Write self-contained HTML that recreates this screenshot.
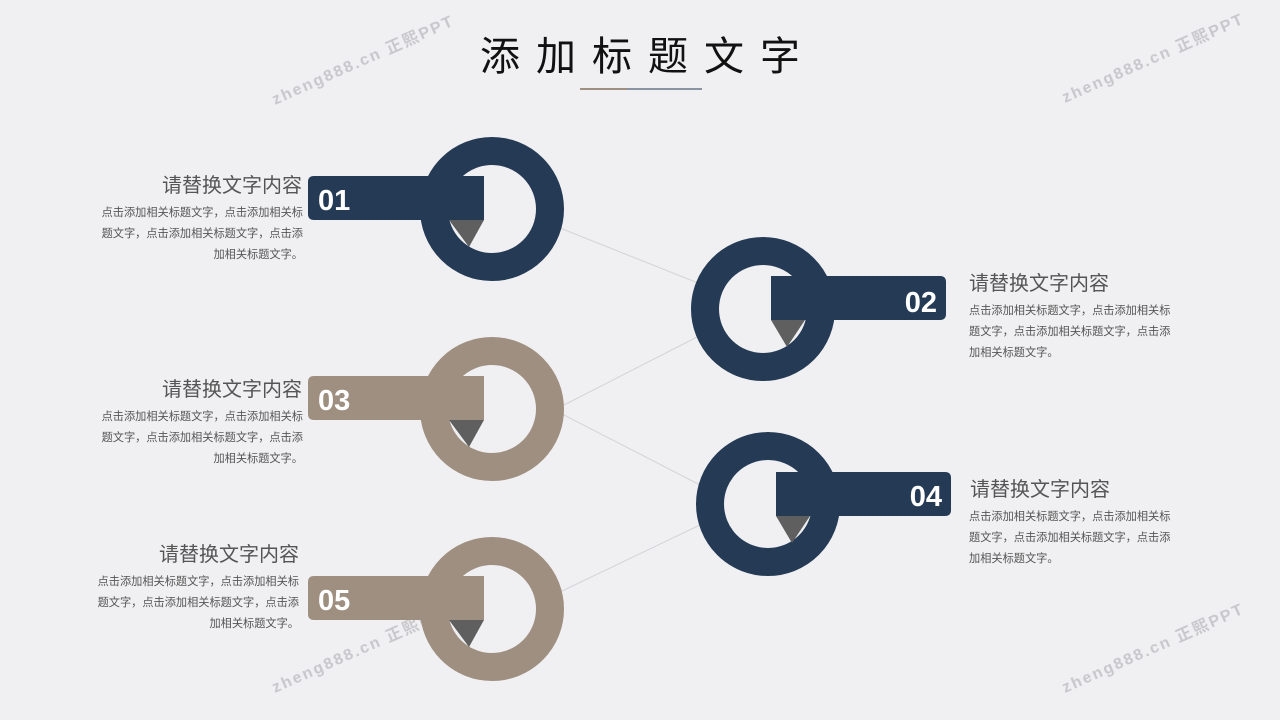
<!DOCTYPE html>
<html><head><meta charset="utf-8"><style>
html,body{margin:0;padding:0;background:#f0f0f2;}
svg{display:block;}
text{font-family:"Liberation Sans","Noto Sans CJK SC",sans-serif;}
</style></head><body>
<svg width="1280" height="720" viewBox="0 0 1280 720" xmlns="http://www.w3.org/2000/svg">
<rect width="1280" height="720" fill="#f0f0f2"/>
<g fill="#bdbdc2" font-size="16" font-weight="bold" opacity="0.8">
<text transform="translate(275,105) rotate(-24)" letter-spacing="2">zheng888.cn 正熙PPT</text>
<text transform="translate(1065,103) rotate(-24)" letter-spacing="2">zheng888.cn 正熙PPT</text>
<text transform="translate(275,693) rotate(-24)" letter-spacing="2">zheng888.cn 正熙PPT</text>
<text transform="translate(1065,693) rotate(-24)" letter-spacing="2">zheng888.cn 正熙PPT</text>
</g>
<text x="480" y="70" font-size="40" fill="#111" letter-spacing="16">添加标题文字</text>
<line x1="580" y1="89" x2="627" y2="89" stroke="#9f8f80" stroke-width="2"/>
<line x1="627" y1="89" x2="702" y2="89" stroke="#243a55" stroke-width="1"/>
<g stroke="#d4d4d8" stroke-width="1" fill="none">
<line x1="560" y1="228" x2="698" y2="283"/>
<line x1="562" y1="406" x2="697" y2="337"/>
<line x1="562" y1="414" x2="702" y2="486"/>
<line x1="560" y1="592" x2="702" y2="524"/>
</g>
<!-- 01 -->
<circle cx="492" cy="209" r="58" fill="none" stroke="#243a55" stroke-width="28"/>
<polygon points="449,220 484,220 469,247" fill="#5f5f5f"/>
<path d="M314,176 H484 V220 H314 Q308,220 308,214 V182 Q308,176 314,176 Z" fill="#243a55"/>
<text x="318" y="210" font-size="29" font-weight="bold" fill="#fff">01</text>
<!-- 03 -->
<circle cx="492" cy="409" r="58" fill="none" stroke="#9f8f80" stroke-width="28"/>
<polygon points="449,420 484,420 469,447" fill="#5f5f5f"/>
<path d="M314,376 H484 V420 H314 Q308,420 308,414 V382 Q308,376 314,376 Z" fill="#9f8f80"/>
<text x="318" y="410" font-size="29" font-weight="bold" fill="#fff">03</text>
<!-- 05 -->
<circle cx="492" cy="609" r="58" fill="none" stroke="#9f8f80" stroke-width="28"/>
<polygon points="449,620 484,620 469,647" fill="#5f5f5f"/>
<path d="M314,576 H484 V620 H314 Q308,620 308,614 V582 Q308,576 314,576 Z" fill="#9f8f80"/>
<text x="318" y="610" font-size="29" font-weight="bold" fill="#fff">05</text>
<!-- 02 -->
<circle cx="763" cy="309" r="58" fill="none" stroke="#243a55" stroke-width="28"/>
<polygon points="771,320 805,320 787,347" fill="#5f5f5f"/>
<path d="M771,276 H940 Q946,276 946,282 V314 Q946,320 940,320 H771 Z" fill="#243a55"/>
<text x="937" y="312" font-size="29" font-weight="bold" fill="#fff" text-anchor="end">02</text>
<!-- 04 -->
<circle cx="768" cy="504" r="58" fill="none" stroke="#243a55" stroke-width="28"/>
<polygon points="776,516 810,516 792,543" fill="#5f5f5f"/>
<path d="M776,472 H945 Q951,472 951,478 V510 Q951,516 945,516 H776 Z" fill="#243a55"/>
<text x="942" y="506" font-size="29" font-weight="bold" fill="#fff" text-anchor="end">04</text>
<!-- texts -->
<g fill="#555">
<g text-anchor="end">
<text x="302" y="192" font-size="20">请替换文字内容</text>
<text x="303" y="216" font-size="11.2">点击添加相关标题文字，点击添加相关标</text>
<text x="303" y="237" font-size="11.2">题文字，点击添加相关标题文字，点击添</text>
<text x="303" y="258" font-size="11.2">加相关标题文字。</text>
<text x="302" y="396" font-size="20">请替换文字内容</text>
<text x="303" y="420" font-size="11.2">点击添加相关标题文字，点击添加相关标</text>
<text x="303" y="441" font-size="11.2">题文字，点击添加相关标题文字，点击添</text>
<text x="303" y="462" font-size="11.2">加相关标题文字。</text>
<text x="299" y="561" font-size="20">请替换文字内容</text>
<text x="299" y="585" font-size="11.2">点击添加相关标题文字，点击添加相关标</text>
<text x="299" y="606" font-size="11.2">题文字，点击添加相关标题文字，点击添</text>
<text x="299" y="627" font-size="11.2">加相关标题文字。</text>
</g>
<text x="969" y="290" font-size="20">请替换文字内容</text>
<text x="969" y="314" font-size="11.2">点击添加相关标题文字，点击添加相关标</text>
<text x="969" y="335" font-size="11.2">题文字，点击添加相关标题文字，点击添</text>
<text x="969" y="356" font-size="11.2">加相关标题文字。</text>
<text x="970" y="496" font-size="20">请替换文字内容</text>
<text x="969" y="520" font-size="11.2">点击添加相关标题文字，点击添加相关标</text>
<text x="969" y="541" font-size="11.2">题文字，点击添加相关标题文字，点击添</text>
<text x="969" y="562" font-size="11.2">加相关标题文字。</text>
</g>
</svg>
</body></html>
